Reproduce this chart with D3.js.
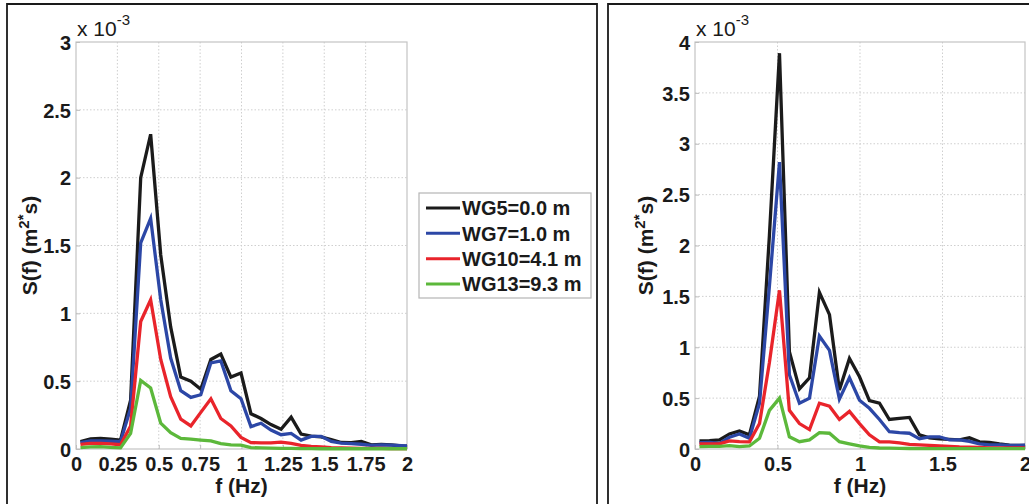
<!DOCTYPE html>
<html>
<head>
<meta charset="utf-8">
<script src="https://cdn.jsdelivr.net/npm/d3@7"></script>
<style>
  body { margin: 0; background: #fff; }
  svg { display: block; }
  text { font-family: "Liberation Sans", Arial, sans-serif; }
</style>
</head>
<body>
<svg id="chart" width="1029" height="504"></svg>
<script>
// Frequency bins (Hz), shared by both spectra
const freq = [0.027, 0.088, 0.148, 0.209, 0.269, 0.330, 0.391, 0.451, 0.512, 0.572,
              0.633, 0.694, 0.754, 0.815, 0.875, 0.936, 0.997, 1.057, 1.118, 1.178,
              1.239, 1.300, 1.360, 1.421, 1.481, 1.542, 1.603, 1.663, 1.724, 1.784,
              1.845, 1.906, 1.966, 2.027];

// Spectral density S(f), in units of 1e-3 m^2*s — left panel
const leftWG5  = [0.055, 0.075, 0.078, 0.072, 0.066, 0.36, 2.00, 2.32, 1.43, 0.90,
                  0.53, 0.50, 0.44, 0.66, 0.70, 0.53, 0.56, 0.26, 0.225, 0.18,
                  0.145, 0.235, 0.11, 0.095, 0.09, 0.07, 0.048, 0.047, 0.055, 0.03,
                  0.034, 0.03, 0.022, 0.02];
const leftWG7  = [0.047, 0.06, 0.06, 0.057, 0.054, 0.30, 1.52, 1.70, 1.10, 0.67,
                  0.43, 0.38, 0.40, 0.635, 0.65, 0.43, 0.37, 0.165, 0.19, 0.14,
                  0.105, 0.115, 0.066, 0.093, 0.093, 0.056, 0.044, 0.04, 0.035, 0.027,
                  0.03, 0.028, 0.025, 0.022];
const leftWG10 = [0.034, 0.042, 0.042, 0.038, 0.032, 0.17, 0.94, 1.10, 0.66, 0.385,
                  0.22, 0.17, 0.27, 0.37, 0.225, 0.17, 0.086, 0.047, 0.045, 0.045,
                  0.05, 0.042, 0.027, 0.02, 0.015, 0.01, 0.008, 0.006, 0.005, 0.004,
                  0.004, 0.003, 0.003, 0.003];
const leftWG13 = [0.01, 0.015, 0.018, 0.012, 0.008, 0.115, 0.505, 0.45, 0.19, 0.12,
                  0.078, 0.073, 0.066, 0.06, 0.04, 0.03, 0.028, 0.01, 0.008, 0.006,
                  0.005, 0.004, 0.003, 0.003, 0.002, 0.002, 0.002, 0.002, 0.002, 0.002,
                  0.002, 0.002, 0.002, 0.002];

// Spectral density S(f), in units of 1e-3 m^2*s — right panel
const rightWG5  = [0.079, 0.082, 0.089, 0.148, 0.178, 0.14, 0.52, 2.10, 3.89, 0.957,
                   0.59, 0.70, 1.54, 1.32, 0.58, 0.89, 0.71, 0.475, 0.45, 0.29,
                   0.30, 0.31, 0.14, 0.11, 0.10, 0.095, 0.09, 0.11, 0.07, 0.065,
                   0.05, 0.038, 0.035, 0.035];
const rightWG7  = [0.062, 0.065, 0.056, 0.115, 0.148, 0.105, 0.45, 1.60, 2.82, 0.73,
                   0.45, 0.50, 1.11, 0.97, 0.49, 0.70, 0.48, 0.40, 0.29, 0.17,
                   0.16, 0.155, 0.10, 0.12, 0.12, 0.09, 0.09, 0.075, 0.05, 0.04,
                   0.04, 0.035, 0.035, 0.04];
const rightWG10 = [0.049, 0.05, 0.05, 0.08, 0.072, 0.07, 0.25, 0.85, 1.56, 0.38,
                   0.25, 0.19, 0.45, 0.42, 0.29, 0.37, 0.25, 0.14, 0.07, 0.07,
                   0.06, 0.045, 0.04, 0.035, 0.03, 0.025, 0.02, 0.018, 0.015, 0.012,
                   0.01, 0.01, 0.01, 0.01];
const rightWG13 = [0.023, 0.025, 0.026, 0.033, 0.023, 0.03, 0.105, 0.38, 0.50, 0.12,
                   0.072, 0.09, 0.16, 0.155, 0.072, 0.05, 0.03, 0.015, 0.01, 0.008,
                   0.006, 0.005, 0.004, 0.004, 0.003, 0.003, 0.003, 0.003, 0.003, 0.003,
                   0.003, 0.003, 0.003, 0.003];

const seriesNames  = ["WG5=0.0 m", "WG7=1.0 m", "WG10=4.1 m", "WG13=9.3 m"];
const seriesColors = ["#1b1b1b", "#2c47a6", "#e9242b", "#5cb83b"];

const leftXTicks  = [0, 0.25, 0.5, 0.75, 1, 1.25, 1.5, 1.75, 2];
const leftYTicks  = [0, 0.5, 1, 1.5, 2, 2.5, 3];
const rightXTicks = [0, 0.5, 1, 1.5, 2];
const rightYTicks = [0, 0.5, 1, 1.5, 2, 2.5, 3, 3.5, 4];

const svg = d3.select("#chart");
const tickFont = 20;

// Outer frames around each panel
svg.append("path")
  .attr("d", "M7,504 V4 H597 V504")
  .attr("fill", "none").attr("stroke", "#1a1a1a").attr("stroke-width", 1.8);
svg.append("path")
  .attr("d", "M608,504 V4 H1029")
  .attr("fill", "none").attr("stroke", "#1a1a1a").attr("stroke-width", 1.8);

function drawPanel(cfg) {
  const x = d3.scaleLinear().domain([0, 2]).range([cfg.x0, cfg.x1]);
  const y = d3.scaleLinear().domain([0, cfg.yMax]).range([cfg.y1, cfg.y0]);
  const g = svg.append("g");
  const clipId = "clip-" + cfg.id;

  g.append("clipPath").attr("id", clipId)
    .append("rect")
    .attr("x", cfg.x0).attr("y", cfg.y0 - 4)
    .attr("width", cfg.x1 - cfg.x0).attr("height", cfg.y1 - cfg.y0 + 8);

  // dotted grid
  g.append("g").selectAll("line").data(cfg.xTicks.slice(1, -1)).join("line")
    .attr("x1", d => x(d)).attr("x2", d => x(d))
    .attr("y1", cfg.y0).attr("y2", cfg.y1)
    .attr("stroke", "#cfcfcf").attr("stroke-width", 1).attr("stroke-dasharray", "1.5,2");
  g.append("g").selectAll("line").data(cfg.yTicks.slice(1, -1)).join("line")
    .attr("x1", cfg.x0).attr("x2", cfg.x1)
    .attr("y1", d => y(d)).attr("y2", d => y(d))
    .attr("stroke", "#cfcfcf").attr("stroke-width", 1).attr("stroke-dasharray", "1.5,2");

  // axes box
  g.append("rect")
    .attr("x", cfg.x0).attr("y", cfg.y0)
    .attr("width", cfg.x1 - cfg.x0).attr("height", cfg.y1 - cfg.y0)
    .attr("fill", "none").attr("stroke", "#c4c4c4").attr("stroke-width", 1.2);

  // axes with inward ticks
  const xAxis = d3.axisBottom(x).tickValues(cfg.xTicks).tickSize(-4).tickPadding(8)
    .tickFormat(d3.format("~g"));
  const yAxis = d3.axisLeft(y).tickValues(cfg.yTicks).tickSize(-4).tickPadding(5)
    .tickFormat(d3.format("~g"));
  const xa = g.append("g").attr("transform", `translate(0,${cfg.y1})`).call(xAxis);
  const ya = g.append("g").attr("transform", `translate(${cfg.x0},0)`).call(yAxis);
  [xa, ya].forEach(a => {
    a.select(".domain").remove();
    a.selectAll(".tick line").attr("stroke", "#bdbdbd");
    a.selectAll(".tick text")
      .attr("fill", "#1a1a1a")
      .style("font-size", tickFont + "px").style("font-weight", "bold");
  });
  xa.selectAll(".tick text").attr("dy", "0.72em");
  ya.selectAll(".tick text").attr("dy", "0.36em");

  // spectra
  const line = d3.line().x((d, i) => x(freq[i])).y(d => y(d));
  g.append("g").attr("clip-path", `url(#${clipId})`)
    .selectAll("path").data(cfg.series).join("path")
    .attr("d", d => line(d))
    .attr("fill", "none")
    .attr("stroke", (d, i) => seriesColors[i])
    .attr("stroke-width", 3.3)
    .attr("stroke-linejoin", "miter");

  // exponent label
  const ex = g.append("text")
    .attr("x", cfg.x0 + 1).attr("y", cfg.y0 - 6)
    .attr("fill", "#1a1a1a").style("font-size", "21px");
  ex.append("tspan").text("x 10");
  ex.append("tspan").attr("dy", -11).style("font-size", "15px").text("-3");

  // axis titles
  g.append("text")
    .attr("x", (cfg.x0 + cfg.x1) / 2).attr("y", 493)
    .attr("text-anchor", "middle").attr("fill", "#1a1a1a")
    .style("font-size", "21px").style("font-weight", "bold")
    .text("f (Hz)");
  const yl = g.append("text")
    .attr("transform", `translate(${cfg.yLabelX},${(cfg.y0 + cfg.y1) / 2}) rotate(-90)`)
    .attr("text-anchor", "middle").attr("fill", "#1a1a1a")
    .style("font-size", "21px").style("font-weight", "bold");
  yl.append("tspan").text("S(f) (m");
  yl.append("tspan").attr("dy", -8).style("font-size", "15px").text("2");
  yl.append("tspan").attr("dy", -1).style("font-size", "15px").text("*");
  yl.append("tspan").attr("dy", 9).text("s)");
}

drawPanel({
  id: "a", x0: 76, x1: 407, y0: 42, y1: 449, yMax: 3,
  xTicks: leftXTicks, yTicks: leftYTicks, yLabelX: 37,
  series: [leftWG5, leftWG7, leftWG10, leftWG13]
});
drawPanel({
  id: "b", x0: 695, x1: 1025, y0: 42, y1: 449, yMax: 4,
  xTicks: rightXTicks, yTicks: rightYTicks, yLabelX: 653,
  series: [rightWG5, rightWG7, rightWG10, rightWG13]
});

// legend
const legend = svg.append("g");
legend.append("rect")
  .attr("x", 419).attr("y", 193).attr("width", 172).attr("height", 105)
  .attr("fill", "#fff").attr("stroke", "#b5b5b5").attr("stroke-width", 1.2);
const rowY = d3.scalePoint().domain(seriesNames).range([208, 284]);
const rows = legend.selectAll("g.row").data(seriesNames).join("g").attr("class", "row");
rows.append("line")
  .attr("x1", 426).attr("x2", 460)
  .attr("y1", d => rowY(d)).attr("y2", d => rowY(d))
  .attr("stroke", (d, i) => seriesColors[i]).attr("stroke-width", 3);
rows.append("text")
  .attr("x", 462).attr("y", d => rowY(d)).attr("dy", "0.36em")
  .attr("fill", "#1a1a1a")
  .style("font-size", "20px").style("font-weight", "bold")
  .text(d => d);
</script>
</body>
</html>
